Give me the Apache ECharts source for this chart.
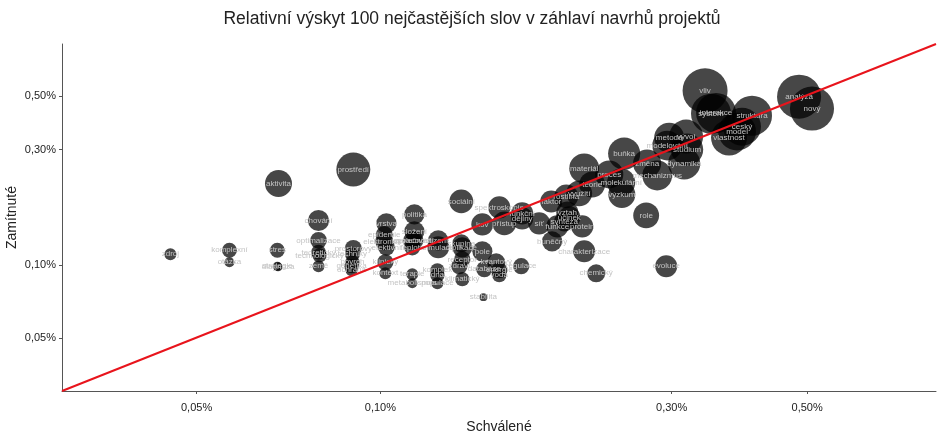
<!DOCTYPE html>
<html><head><meta charset="utf-8">
<script src="https://cdn.jsdelivr.net/npm/echarts@6/dist/echarts.min.js"></script>
<style>html,body{margin:0;padding:0;background:#fff}#c{width:944px;height:437px}</style>
</head><body><div id="c"></div>
<script>
const slova = ["zdroj","komplexní","otázka","aktivita","stres","strategie","diagnóza","chování","optimalizace","teoretický","technologický","země","prostředí","prostorový","techniky","povrch","genetika","ochrana","vrstva","epidemie","efektivní","klinický","kontext","politika","složení","společnost","teplota","terapie","metabolismus","sociální","řízení","simulace","komplex","dna","populace","aplikace","skupina","receptor","zdraví","klimatický","pole","databáze","kvantový","energie","voda","regulace","stabilita","kov","přístup","spektroskopie","funkční","dějiny","síť","faktor","rostlina","využití","vztah","účinek","syntéza","funkce","protein","buněčný","charakterizace","chemický","materiál","buňka","proces","teorie","molekulární","výzkum","změna","mechanizmus","role","evoluce","metoda","vývoj","modelování","studium","dynamika","vliv","systém","interakce","struktura","český","model","vlastnost","analýza","nový","elektronický","zpracování"];
const schvalene = [0.0453,0.0566,0.0566,0.0681,0.0678,0.0678,0.0680,0.0792,0.0792,0.0792,0.0795,0.0792,0.0903,0.0903,0.0900,0.0900,0.0897,0.0897,0.1023,0.1015,0.1023,0.1019,0.1019,0.1137,0.1137,0.1128,0.1128,0.1128,0.1128,0.1357,0.1244,0.1244,0.1240,0.1240,0.1240,0.1362,0.1357,0.1362,0.1347,0.1362,0.1469,0.1480,0.1548,0.1566,0.1566,0.1701,0.1475,0.1469,0.1596,0.1566,0.1707,0.1707,0.1820,0.1905,0.2016,0.2117,0.2024,0.2039,0.2001,0.1949,0.2141,0.1911,0.2157,0.2257,0.2157,0.2508,0.2371,0.2223,0.2480,0.2486,0.2735,0.2841,0.2725,0.2939,0.2972,0.3168,0.2950,0.3180,0.3145,0.3403,0.3480,0.3547,0.4062,0.3912,0.3839,0.3725,0.4851,0.5093,0.1015,0.1137];
const zamitnute = [0.1110,0.1153,0.1029,0.2175,0.1153,0.0991,0.0985,0.1531,0.1267,0.1131,0.1099,0.0991,0.2485,0.1175,0.1110,0.1029,0.0991,0.0954,0.1489,0.1341,0.1186,0.1029,0.0927,0.1621,0.1380,0.1267,0.1186,0.0918,0.0843,0.1834,0.1267,0.1186,0.0954,0.0910,0.0843,0.1186,0.1232,0.1058,0.0991,0.0876,0.1142,0.0963,0.1029,0.0954,0.0910,0.0991,0.0739,0.1475,0.1489,0.1733,0.1637,0.1561,0.1489,0.1834,0.1923,0.1980,0.1652,0.1576,0.1517,0.1447,0.1447,0.1255,0.1142,0.0927,0.2510,0.2890,0.2370,0.2154,0.2196,0.1960,0.2630,0.2345,0.1606,0.0991,0.3363,0.3395,0.3118,0.3000,0.2630,0.5250,0.4220,0.4250,0.4140,0.3730,0.3560,0.3363,0.4960,0.4430,0.1255,0.1267];
const celkem = [7,11,5,36,11,4,4,22,14,11,10,7,57,14,11,10,10,7,20,14,14,13,7,20,20,16,13,7,5,28,20,24,10,10,7,20,16,13,13,10,20,13,16,13,10,13,3,24,28,24,24,24,24,24,28,33,24,24,20,24,24,20,24,16,44,51,39,33,39,36,39,44,33,24,44,57,44,51,51,100,79,79,79,71,71,64,96,96,16,16];
const tickValues = [0.05,0.10,0.30,0.50];
const osaMin = 0.0301, osaMax = 0.813;
const yMin = 0.0303, yMax = 0.818;

const L = v => Math.log10(v);
const data = slova.map((w,i)=>[L(schvalene[i]), L(zamitnute[i]), celkem[i], w]);
const fmt = v => Math.pow(10,v).toFixed(2).replace('.',',') + '%';
const font = '"Liberation Sans", Arial, sans-serif';
const axisCommon = {
  type:'value', splitLine:{show:false},
  axisLine:{show:true,onZero:false,lineStyle:{color:'#555',width:1}},
  axisTick:{show:true,length:3,lineStyle:{color:'#555'},customValues:tickValues.map(L)},
  axisLabel:{customValues:tickValues.map(L),formatter:fmt,color:'#222',fontSize:11,fontFamily:font},
  nameLocation:'middle', nameTextStyle:{fontSize:14,color:'#222',fontFamily:font}
};
const chart = echarts.init(document.getElementById('c'),null,{renderer:'canvas'});
chart.setOption({
  animation:false,
  title:{text:'Relativní výskyt 100 nejčastějších slov v záhlaví navrhů projektů',left:'center',top:5,
    textStyle:{fontSize:17.5,fontWeight:'normal',color:'#222',fontFamily:font}},
  grid:{left:62,right:8,top:44,bottom:46,containLabel:false,outerBoundsMode:'none'},
  xAxis:Object.assign({},axisCommon,{min:L(osaMin),max:L(osaMax),name:'Schválené',nameGap:29,
    axisLabel:Object.assign({},axisCommon.axisLabel,{margin:11})}),
  yAxis:Object.assign({},axisCommon,{min:L(yMin),max:L(yMax),name:'Zamítnuté',nameGap:43,nameMoveOverlap:false,
    axisLabel:Object.assign({},axisCommon.axisLabel,{margin:6})}),
  series:[
    {type:'scatter',data:data,symbolSize:v=>4.5*Math.sqrt(v[2]),
     itemStyle:{color:'rgba(0,0,0,0.72)',opacity:1},
     label:{show:true,position:'inside',formatter:p=>p.data[3],color:'#c4c4c4',fontSize:8,fontFamily:font},
     emphasis:{disabled:true},z:2},
    {type:'line',data:[[L(osaMin),L(yMin)],[L(osaMax),L(yMax)]],symbol:'none',
     lineStyle:{color:'#e8141c',width:2},z:5,silent:true}
  ]
});
</script></body></html>
